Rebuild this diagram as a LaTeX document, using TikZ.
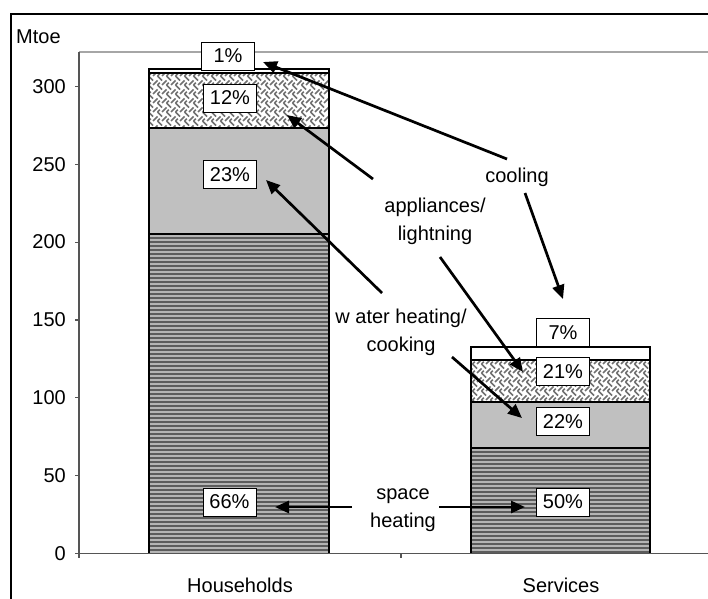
\documentclass[tikz,border=0pt]{standalone}
\usepackage{fontspec}
\setmainfont{Liberation Sans}
\usetikzlibrary{arrows.meta,patterns}

% woven texture for the appliances/lighting segments
\pgfdeclarepatternformonly{weave}{\pgfpoint{-1pt}{-1pt}}{\pgfpoint{10pt}{10pt}}{\pgfpoint{9pt}{9pt}}{%
  \pgfsetlinewidth{1.6pt}%
  \pgfpathmoveto{\pgfpoint{0pt}{0pt}}\pgfpathlineto{\pgfpoint{4.5pt}{4.5pt}}%
  \pgfpathmoveto{\pgfpoint{4.5pt}{9pt}}\pgfpathlineto{\pgfpoint{9pt}{4.5pt}}%
  \pgfpathmoveto{\pgfpoint{4.5pt}{0pt}}\pgfpathlineto{\pgfpoint{6.75pt}{2.25pt}}%
  \pgfusepath{stroke}}

\definecolor{stripedark}{HTML}{5C5C5C}
\definecolor{stripelight}{HTML}{B4B4B4}
\definecolor{waterfill}{HTML}{C0C0C0}
\definecolor{weavegray}{HTML}{707070}
\definecolor{axisgray}{HTML}{555555}

% horizontal striping of a rectangle: x left, x right, y top, y bottom
\newcommand{\stripefill}[4]{%
  \begin{scope}
    \clip (#1,#3) rectangle (#2,#4);
    \pgfmathsetmacro{\ystart}{#3+2}%
    \pgfmathsetmacro{\ynext}{#3+6}%
    \foreach \yy in {\ystart,\ynext,...,#4}{
      \draw[stripelight, line width=1.7pt] (#1,\yy) -- (#2,\yy);
    }
  \end{scope}}

\begin{document}
\begin{tikzpicture}[x=1pt,y=-1pt,
  txt/.style={font=\fontsize{20}{28}\selectfont, inner sep=0pt, align=center},
  ticklbl/.style={font=\fontsize{20}{22}\selectfont, inner sep=0pt, anchor=east},
  pct/.style={draw=black, line width=0.9pt, fill=white, minimum width=53pt,
    minimum height=28pt, inner sep=0pt, font=\fontsize{20}{22}\selectfont},
  barseg/.style={draw=black, line width=1.5pt},
  spacefill/.style={fill=stripedark},
  waterseg/.style={barseg, fill=waterfill},
  applseg/.style={barseg, preaction={fill=white}, pattern=weave, pattern color=weavegray},
  coolseg/.style={barseg, fill=white},
  pointer/.style={line width=2.7pt, -{Triangle[length=14pt,width=12pt]}},
  axisline/.style={draw=axisgray, line width=1.2pt}
]
\useasboundingbox (0,0) rectangle (708,598);

% outer chart frame and plot area border
\draw[line width=1.3pt] (11,600) -- (11,14) -- (712,14);
\draw[gray!70, line width=1.8pt] (79,52) -- (712,52);

% Households stack
\fill[spacefill] (149,234) rectangle (329,553.5);
\stripefill{149}{329}{234}{553.5}
\draw[barseg] (149,234) rectangle (329,553.5);
\path[waterseg] (149,128) rectangle (329,234);
\path[applseg]  (149,73)  rectangle (329,128);
\path[coolseg]  (149,69)  rectangle (329,73);

% Services stack
\fill[spacefill] (471,448) rectangle (650,553.5);
\stripefill{471}{650}{448}{553.5}
\draw[barseg] (471,448) rectangle (650,553.5);
\path[waterseg] (471,402) rectangle (650,448);
\path[applseg]  (471,360) rectangle (650,402);
\path[coolseg]  (471,347) rectangle (650,360);

% axes
\draw[axisline] (79,52) -- (79,558);
\draw[axisline] (79,553.5) -- (712,553.5);
\draw[axisline] (401,553.5) -- (401,558);
\foreach \v/\n in {0/t0,50/t50,100/t100,150/t150,200/t200,250/t250,300/t300}{
  \draw[axisline] (75,553.5-1.557*\v) -- (79,553.5-1.557*\v);
  \node[ticklbl] (\n) at (66,553.5-1.557*\v) {\v};
}
\node[font=\fontsize{20}{22}\selectfont, inner sep=0pt, anchor=west] (unit) at (16,37) {Mtoe};
\node[txt] (hh) at (240,585) {Households};
\node[txt] (sv) at (561,585) {Services};

% share labels
\node[pct] (hcool)  at (228,56)    {1\%};
\node[pct] (happl)  at (230,98)    {12\%};
\node[pct] (hwater) at (230,174.5) {23\%};
\node[pct] (hspace) at (229.5,502) {66\%};
\node[pct] (scool)  at (563,332.5) {7\%};
\node[pct] (sappl)  at (563,371.5) {21\%};
\node[pct] (swater) at (563,421.5) {22\%};
\node[pct] (sspace) at (563,502)   {50\%};

% end-use captions
\node[txt] (cooling) at (517,177) {cooling};
\node[txt] (appl)    at (435,221) {appliances/\\lightning};
\node[txt] (water)   at (401,332) {w ater heating/\\cooking};
\node[txt] (space)   at (403,510) {space\\heating};

% pointer ends
\coordinate (c1a) at (507,159); \coordinate (c1b) at (263,62);
\coordinate (c2a) at (525,193); \coordinate (c2b) at (563,299);
\coordinate (a1a) at (373,179); \coordinate (a1b) at (287,115);
\coordinate (a2a) at (440,257); \coordinate (a2b) at (523,372);
\coordinate (w1a) at (382,293); \coordinate (w1b) at (266,180);
\coordinate (w2a) at (452,357); \coordinate (w2b) at (522,418);
\coordinate (s1a) at (352,507); \coordinate (s1b) at (275,507);
\coordinate (s2a) at (439,507); \coordinate (s2b) at (525,507);

\draw[pointer] (c1a) -- (c1b);
\draw[pointer] (c2a) -- (c2b);
\draw[pointer] (a1a) -- (a1b);
\draw[pointer] (a2a) -- (a2b);
\draw[pointer] (w1a) -- (w1b);
\draw[pointer] (w2a) -- (w2b);
\draw[pointer] (s1a) -- (s1b);
\draw[pointer] (s2a) -- (s2b);
\end{tikzpicture}
\end{document}
